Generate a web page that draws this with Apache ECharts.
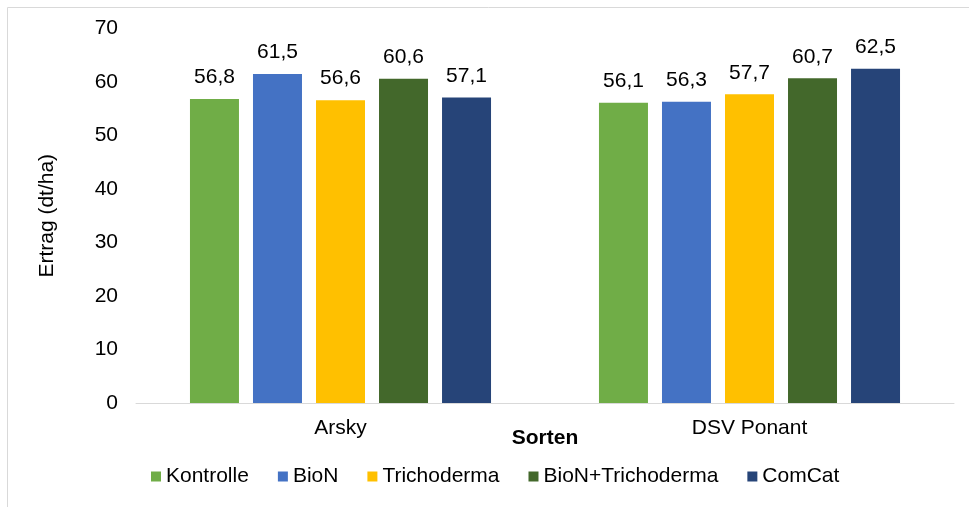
<!DOCTYPE html>
<html><head><meta charset="utf-8">
<script src="https://cdn.jsdelivr.net/npm/echarts@6/dist/echarts.min.js"></script>
<style>html,body{margin:0;padding:0;background:#fff}#c{width:969px;height:507px}</style>
</head><body><div id="c"></div>
<script>
const categories = ['Arsky', 'DSV Ponant'];
const seriesNames = ['Kontrolle', 'BioN', 'Trichoderma', 'BioN+Trichoderma', 'ComCat'];
const kontrolle = [56.8, 56.1];
const bioN = [61.5, 56.3];
const trichoderma = [56.6, 57.7];
const bioNTrichoderma = [60.6, 60.7];
const comCat = [57.1, 62.5];
const yTicks = [0, 10, 20, 30, 40, 50, 60, 70];
const colors = ['#70ad47', '#4472c4', '#ffc000', '#43682b', '#264478'];
const values = [kontrolle, bioN, trichoderma, bioNTrichoderma, comCat];
const FONT = '"Liberation Sans", Arial, sans-serif';
const FS = 21;

const chart = echarts.init(document.getElementById('c'), null, {renderer: 'canvas'});
chart.setOption({
  animation: false,
  textStyle: {fontFamily: FONT},
  graphic: [{type: 'rect', shape: {x: 7.5, y: 7.5, width: 1000, height: 1000}, style: {fill: 'none', stroke: '#d9d9d9', lineWidth: 1}, silent: true}],
  grid: {left: 136, right: 15, top: 28.5, bottom: 104, containLabel: false},
  legend: {
    left: 151, top: 466, padding: 0, itemWidth: 10, itemHeight: 10, itemGap: 29, icon: 'rect',
    textStyle: {fontSize: FS, color: '#000', fontFamily: FONT},
    data: seriesNames
  },
  xAxis: {
    type: 'category', data: categories,
    name: 'Sorten', nameLocation: 'middle', nameGap: 25, nameMoveOverlap: false,
    nameTextStyle: {fontSize: FS, fontWeight: 'bold', color: '#000', fontFamily: FONT},
    axisLine: {lineStyle: {color: '#d9d9d9', width: 1}},
    axisTick: {show: false},
    axisLabel: {fontSize: FS, color: '#000', margin: 15, fontFamily: FONT}
  },
  yAxis: {
    type: 'value', min: yTicks[0], max: yTicks[yTicks.length - 1], interval: 10,
    name: 'Ertrag (dt/ha)', nameLocation: 'middle', nameGap: 78, nameMoveOverlap: false,
    nameTextStyle: {fontSize: FS, color: '#000', fontFamily: FONT},
    axisLine: {show: false}, axisTick: {show: false},
    splitLine: {show: false},
    axisLabel: {fontSize: FS, color: '#000', margin: 18, fontFamily: FONT}
  },
  series: seriesNames.map((n, i) => ({
    name: n, type: 'bar', data: values[i], barWidth: 49, barGap: '28.6%',
    itemStyle: {color: colors[i]},
    label: {show: true, position: 'top', distance: 11, fontSize: FS, color: '#000', fontFamily: FONT,
      formatter: p => p.value.toFixed(1).replace('.', ',')}
  }))
});
</script></body></html>
